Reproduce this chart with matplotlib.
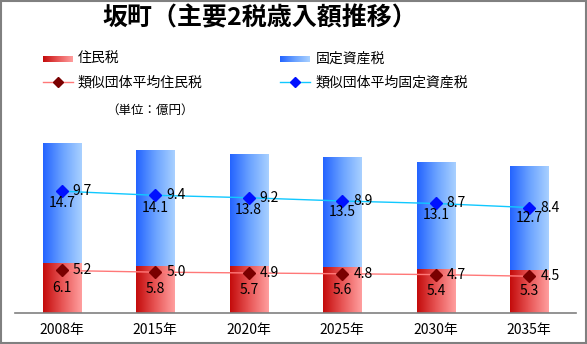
import matplotlib.pyplot as plt
import numpy as np
from matplotlib.colors import LinearSegmentedColormap
from matplotlib.patches import Rectangle
from matplotlib.lines import Line2D

plt.rcParams['font.family'] = ['Noto Sans CJK JP', 'DejaVu Sans']

years = ["2008年", "2015年", "2020年", "2025年", "2030年", "2035年"]
jumin = [6.1, 5.8, 5.7, 5.6, 5.4, 5.3]
kotei = [14.7, 14.1, 13.8, 13.5, 13.1, 12.7]
avg_jumin = [5.2, 5.0, 4.9, 4.8, 4.7, 4.5]
avg_kotei = [9.7, 9.4, 9.2, 8.9, 8.7, 8.4]

red_cmap = LinearSegmentedColormap.from_list("red", ["#c40c0c", "#e85656", "#ff9e9e"])
blue_cmap = LinearSegmentedColormap.from_list("blue", ["#2464ff", "#6aa2ff", "#a8d0ff"])
grad = np.linspace(0, 1, 64).reshape(1, -1)

fig = plt.figure(figsize=(5.87, 3.44), dpi=100)
ax = fig.add_axes([15 / 587, 1 - 313 / 344, 561 / 587, 188 / 344])

x = np.arange(len(years))
bw = 0.41

def gradient_bars(bars, cmap):
    for b in bars:
        x0, y0 = b.get_x(), b.get_y()
        im = ax.imshow(grad, cmap=cmap, aspect='auto', interpolation='bilinear',
                       extent=[x0, x0 + b.get_width(), y0, y0 + b.get_height()], zorder=2)
        im.set_clip_path(b)
        b.set_facecolor('none')

b1 = ax.bar(x, jumin, bw, linewidth=0, zorder=2)
b2 = ax.bar(x, kotei, bw, bottom=jumin, linewidth=0, zorder=2)
gradient_bars(b1, red_cmap)
gradient_bars(b2, blue_cmap)

# segment labels
for i in range(len(years)):
    ax.text(x[i], jumin[i] / 2, f"{jumin[i]:.1f}", ha='center', va='center', fontsize=10, zorder=5)
    ax.text(x[i], jumin[i] + kotei[i] / 2, f"{kotei[i]:.1f}", ha='center', va='center', fontsize=10, zorder=5)

# stacked average lines
line_j = np.array(avg_jumin)
line_k = line_j + np.array(avg_kotei)
ax.plot(x, line_j, color='#ff7878', lw=1, marker='D', ms=6, mfc='#7a0000', mec='#7a0000', zorder=4)
ax.plot(x, line_k, color='#10c8ff', lw=1, marker='D', ms=6, mfc='#0010ff', mec='#0010ff', zorder=4)
for i in range(len(years)):
    ax.annotate(f"{avg_jumin[i]:.1f}", (x[i], line_j[i]), xytext=(8, 0), textcoords='offset points',
                ha='left', va='center', fontsize=10, zorder=5)
    ax.annotate(f"{avg_kotei[i]:.1f}", (x[i], line_k[i]), xytext=(8, 0), textcoords='offset points',
                ha='left', va='center', fontsize=10, zorder=5)

ax.set_xlim(-0.5, len(years) - 0.5)
ax.set_ylim(0, 23)
ax.set_xticks(x)
ax.set_xticklabels(years, fontsize=10)
ax.tick_params(axis='x', length=0, pad=7)
ax.set_yticks([])
for s in ['top', 'left', 'right']:
    ax.spines[s].set_visible(False)
ax.spines['bottom'].set_color('#808080')
ax.spines['bottom'].set_linewidth(1.2)

# title and legend
fig.text(260 / 587, 1 - 18 / 344, "坂町（主要2税歳入額推移）", ha='center', va='center',
         fontsize=18, fontweight='bold')

lax = fig.add_axes([0, 0, 1, 1])
lax.set_xlim(0, 587)
lax.set_ylim(344, 0)
lax.axis('off')
lax.imshow(grad, cmap=red_cmap, aspect='auto', extent=[43, 73, 62, 56])
lax.imshow(grad, cmap=blue_cmap, aspect='auto', extent=[280, 310, 62, 56])
lax.text(78, 59, "住民税", va='center', fontsize=10)
lax.text(316, 59, "固定資産税", va='center', fontsize=10)
lax.add_line(Line2D([43, 73], [82, 82], color='#ff7878', lw=1))
lax.plot([58], [82], marker='D', ms=5, color='#7a0000')
lax.add_line(Line2D([280, 310], [82, 82], color='#10c8ff', lw=1))
lax.plot([295], [82], marker='D', ms=5, color='#0010ff')
lax.text(78, 82, "類似団体平均住民税", va='center', fontsize=10)
lax.text(316, 82, "類似団体平均固定資産税", va='center', fontsize=10)
lax.text(106, 110, "（単位：億円）", va='center', fontsize=9)
lax.add_patch(Rectangle((0.5, 0.5), 585, 342, fill=False, edgecolor='#808080', lw=1.5))

fig.savefig("out.png", dpi=100)
